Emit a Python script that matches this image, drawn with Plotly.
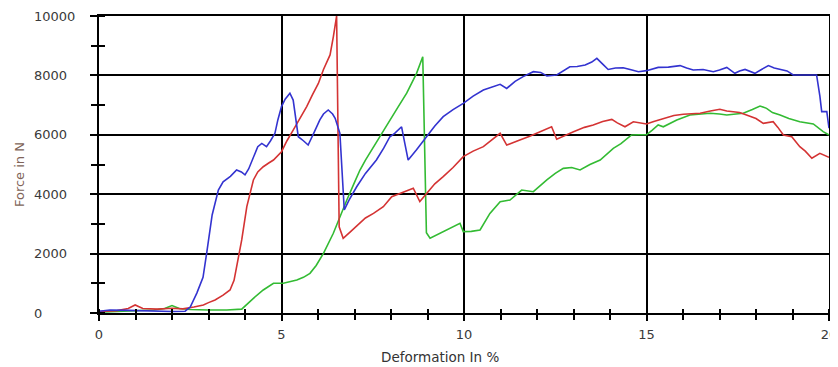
import plotly.graph_objects as go

# ---- data ----
blue_x = [0, 0.3, 0.8, 1.5, 2.0, 2.36, 2.5, 2.68, 2.85, 2.95, 3.1, 3.27, 3.4, 3.6, 3.77, 3.9, 4.0, 4.1, 4.23, 4.35,
          4.46, 4.59, 4.7, 4.82, 4.9, 5.0, 5.1, 5.23, 5.32, 5.4, 5.46, 5.6, 5.73, 5.9, 6.05, 6.15, 6.28, 6.4, 6.47, 6.6,
          6.66, 6.72, 6.85, 7.06, 7.3, 7.6, 7.8, 7.97, 8.1, 8.29, 8.38, 8.47, 8.7, 8.98, 9.2, 9.43, 9.7, 9.98, 10.25,
          10.53, 10.8, 10.99, 11.17, 11.4, 11.62, 11.9, 12.1, 12.27, 12.54, 12.7, 12.9, 13.1, 13.32, 13.5, 13.64, 13.8,
          13.95, 14.15, 14.36, 14.55, 14.78, 15.0, 15.32, 15.6, 15.92, 16.1, 16.28, 16.55, 16.83, 17.0, 17.2, 17.42,
          17.55, 17.7, 17.97, 18.15, 18.34, 18.5, 18.7, 18.85, 19.02, 19.3, 19.66, 19.75, 19.8, 19.94, 20.0]
blue_y = [60, 100, 90, 60, 50, 60, 200, 670, 1200, 2020, 3300, 4140, 4420, 4600, 4815, 4750, 4650, 4850, 5265, 5600,
          5710, 5600, 5800, 6050, 6500, 6950, 7200, 7400, 7170, 6500, 5935, 5800, 5655, 6100, 6500, 6700, 6835, 6700,
          6555, 6050, 4800, 3470, 3800, 4250, 4700, 5150, 5550, 5935, 6050, 6270, 5700, 5150, 5500, 5935, 6300, 6610,
          6850, 7060, 7300, 7510, 7620, 7700, 7560, 7800, 7960, 8125, 8100, 7980, 8015, 8150, 8290, 8300, 8350, 8450,
          8575, 8380, 8200, 8250, 8260, 8200, 8125, 8160, 8270, 8280, 8330, 8250, 8180, 8200, 8125, 8180, 8270, 8070,
          8150, 8200, 8070, 8200, 8330, 8250, 8200, 8150, 8015, 8015, 8015, 7300, 6780, 6780, 6220]

red_x = [0, 0.5, 0.8, 0.99, 1.2, 1.6, 2.0, 2.3, 2.6, 2.86, 3.0, 3.18, 3.4, 3.59, 3.7, 3.77, 3.91, 4.05, 4.15, 4.23,
         4.35, 4.5, 4.65, 4.78, 5.0, 5.15, 5.32, 5.5, 5.69, 5.85, 6.01, 6.15, 6.33, 6.42, 6.51, 6.58, 6.69, 6.9, 7.15,
         7.3, 7.52, 7.79, 8.02, 8.2, 8.34, 8.61, 8.79, 9.02, 9.2, 9.43, 9.7, 9.98, 10.25, 10.53, 10.8, 10.99, 11.17,
         11.35, 11.53, 11.8, 11.99, 12.2, 12.4, 12.54, 12.8, 13.0, 13.3, 13.54, 13.8, 14.05, 14.2, 14.41, 14.64, 15.0,
         15.2, 15.46, 15.75, 16.01, 16.25, 16.47, 16.75, 17.01, 17.2, 17.38, 17.55, 17.74, 18.0, 18.2, 18.47, 18.6,
         18.75, 18.98, 19.2, 19.35, 19.53, 19.75, 20.0]
red_y = [50, 80, 150, 270, 150, 130, 160, 140, 200, 270, 350, 440, 600, 775, 1100, 1560, 2460, 3580, 4100, 4480,
         4750, 4925, 5050, 5150, 5430, 5800, 6160, 6550, 6950, 7350, 7730, 8200, 8690, 9300, 10000, 2900, 2515, 2750,
         3020, 3200, 3355, 3580, 3915, 4000, 4085, 4200, 3750, 4085, 4350, 4590, 4900, 5265, 5450, 5600, 5850, 6050,
         5655, 5750, 5825, 5950, 6050, 6150, 6270, 5850, 6000, 6105, 6250, 6330, 6450, 6520, 6400, 6270, 6440, 6365,
         6450, 6555, 6650, 6690, 6700, 6725, 6800, 6860, 6800, 6780, 6750, 6665, 6550, 6385, 6440, 6250, 5995, 5935,
         5600, 5450, 5210, 5375, 5240]

green_x = [0, 0.5, 1.0, 1.5, 1.8, 2.0, 2.2, 2.5, 3.0, 3.5, 3.91, 4.05, 4.23, 4.5, 4.78, 5.05, 5.42, 5.6, 5.78, 5.95,
           6.15, 6.42, 6.6, 6.79, 7.0, 7.15, 7.3, 7.52, 7.75, 7.97, 8.2, 8.43, 8.7, 8.87, 8.97, 9.07, 9.34, 9.62, 9.89,
           9.98, 10.2, 10.44, 10.71, 10.99, 11.26, 11.58, 11.9, 12.27, 12.5, 12.72, 12.95, 13.18, 13.45, 13.73, 14.09,
           14.3, 14.59, 14.8, 15.0, 15.15, 15.32, 15.46, 15.83, 16.19, 16.45, 16.74, 17.0, 17.2, 17.45, 17.65, 17.9,
           18.11, 18.29, 18.45, 18.66, 18.9, 19.2, 19.57, 19.84, 20.0]
green_y = [30, 60, 80, 100, 150, 250, 150, 120, 100, 100, 130, 300, 495, 775, 1000, 1000, 1110, 1200, 1335, 1600,
           2010, 2685, 3250, 3805, 4400, 4815, 5150, 5600, 6050, 6500, 6950, 7400, 8070, 8630, 2700, 2515, 2685, 2850,
           3020, 2740, 2750, 2795, 3355, 3750, 3805, 4140, 4085, 4480, 4700, 4870, 4900, 4815, 5000, 5150, 5545, 5700,
           5995, 6000, 6000, 6150, 6330, 6270, 6500, 6665, 6700, 6725, 6700, 6665, 6700, 6725, 6850, 6970, 6890, 6750,
           6665, 6550, 6440, 6365, 6105, 5995]

x_ticks = [0, 5, 10, 15, 20]
y_ticks = [0, 2000, 4000, 6000, 8000, 10000]
x_title = "Deformation In %"
y_title = "Force in N"

FONT = "DejaVu Sans"
TICK_COLOR = "#3a3a3a"

# left-aligned y tick labels (figure spaces pad to equal width)
width = max(len(str(v)) for v in y_ticks)
y_ticktext = [str(v) + "\u2007" * (width - len(str(v))) for v in y_ticks]

fig = go.Figure()
fig.add_trace(go.Scatter(x=green_x, y=green_y, mode="lines", line=dict(color="#33bb33", width=1.6)))
fig.add_trace(go.Scatter(x=red_x, y=red_y, mode="lines", line=dict(color="#d43333", width=1.6)))
fig.add_trace(go.Scatter(x=blue_x, y=blue_y, mode="lines", line=dict(color="#3333d0", width=1.6)))

axis_common = dict(showline=True, linecolor="black", linewidth=2, mirror=True, automargin=False,
                   showgrid=True, gridcolor="black", gridwidth=2, zeroline=False,
                   ticks="outside", tickcolor="black", tickwidth=2,
                   tickfont=dict(family=FONT, size=13, color=TICK_COLOR))

# the page body has an 8px margin, so the figure is slightly smaller and offset
fig.update_layout(
    width=830, height=359,
    margin=dict(l=91, r=9, t=8, b=54, autoexpand=False),
    paper_bgcolor="white", plot_bgcolor="white",
    showlegend=False,
    xaxis=dict(range=[0, 20], tickvals=x_ticks, ticklen=6, ticklabelstandoff=2,
               minor=dict(dtick=1, tick0=0, ticks="outside", ticklen=5, tickwidth=2, tickcolor="black", showgrid=False),
               **axis_common),
    yaxis=dict(range=[0, 10000], tickvals=y_ticks, ticktext=y_ticktext, ticklen=7, ticklabelstandoff=12,
               minor=dict(dtick=1000, tick0=0, ticks="outside", ticklen=6, tickwidth=2, tickcolor="black", showgrid=False),
               **axis_common),
    xaxis2=dict(overlaying="x", matches="x", anchor="y", range=[0, 20], showgrid=False, showline=False,
                zeroline=False, showticklabels=False, ticks="", tickvals=x_ticks, automargin=False,
                minor=dict(dtick=1, tick0=0, ticks="inside", ticklen=4, tickwidth=2, tickcolor="black", showgrid=False)),
    yaxis2=dict(overlaying="y", matches="y", anchor="x", range=[0, 10000], showgrid=False, showline=False,
                zeroline=False, showticklabels=False, ticks="", tickvals=y_ticks, automargin=False,
                minor=dict(dtick=1000, tick0=0, ticks="inside", ticklen=6, tickwidth=2, tickcolor="black", showgrid=False)),
    annotations=[
        dict(text=x_title, xref="paper", yref="paper", x=0.467, y=-0.115, xanchor="center", yanchor="top",
             showarrow=False, font=dict(family=FONT, size=13.5, color="#333333")),
        dict(text=y_title, xref="paper", yref="paper", x=-0.108, y=0.465, xanchor="center", yanchor="middle",
             textangle=-90, showarrow=False, font=dict(family=FONT, size=13, color="#806458")),
    ],
)
# invisible helper traces so the overlay axes are drawn
fig.add_trace(go.Scatter(x=[None], y=[None], xaxis="x2", yaxis="y", hoverinfo="skip", showlegend=False))
fig.add_trace(go.Scatter(x=[None], y=[None], xaxis="x", yaxis="y2", hoverinfo="skip", showlegend=False))

fig.write_html("out.html")
